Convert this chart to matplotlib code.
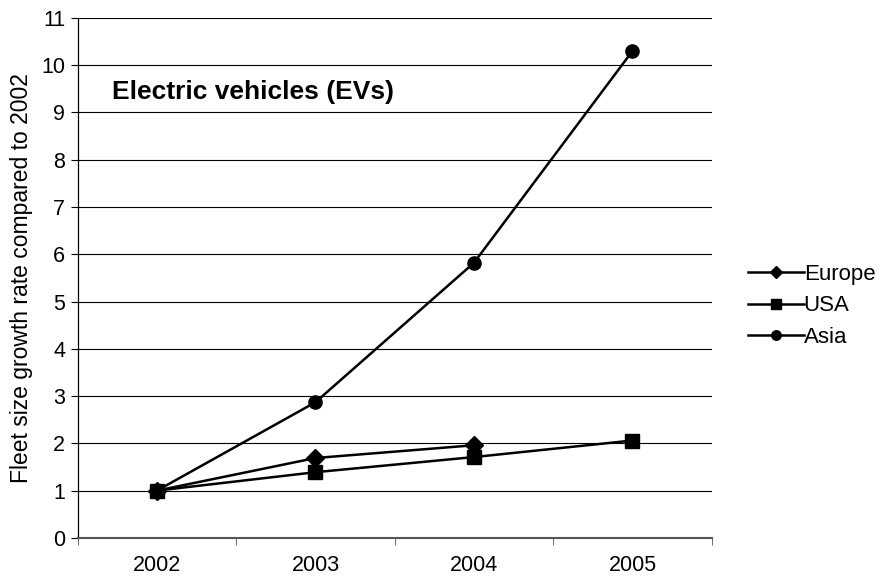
import matplotlib
matplotlib.use("Agg")
import matplotlib.pyplot as plt

plt.rcParams['font.family'] = ['Liberation Sans', 'DejaVu Sans']

years = ["2002", "2003", "2004", "2005"]
europe = [1.0, 1.69, 1.96]
usa = [1.0, 1.39, 1.71, 2.06]
asia = [1.0, 2.87, 5.82, 10.3]

fig = plt.figure(figsize=(8.83, 5.79), dpi=100)
ax = fig.add_axes([0.088, 0.071, 0.718, 0.898])

x = list(range(len(years)))
ax.plot(x[:len(europe)], europe, color="black", lw=1.8, marker="D", ms=9, label="Europe", zorder=3)
ax.plot(x, usa, color="black", lw=1.8, marker="s", ms=10, label="USA", zorder=5)
ax.plot(x, asia, color="black", lw=1.8, marker="o", ms=9.5, label="Asia", zorder=4)

ax.set_xlim(-0.5, len(years) - 0.5)
ax.set_ylim(0, 11)
ax.set_yticks(range(0, 12))
ax.set_xticks(x)
ax.set_xticklabels(years)
ax.set_xticks([i + 0.5 for i in range(-1, len(years))], minor=True)
ax.tick_params(axis="x", which="major", length=0, pad=12, labelsize=15.5)
ax.tick_params(axis="x", which="minor", length=5, color="#555555")
ax.tick_params(axis="y", length=5, labelsize=15.5, pad=4)
ax.yaxis.grid(True, color="black", lw=0.8)
ax.set_axisbelow(True)
for s in ["top", "right"]:
    ax.spines[s].set_visible(False)
ax.spines["left"].set_linewidth(0.9)
ax.spines["bottom"].set_color("#555555")
ax.spines["bottom"].set_linewidth(1.5)

ax.set_ylabel("Fleet size growth rate compared to 2002", fontsize=16.5, labelpad=6)
ax.text(0.054, 0.857, "Electric vehicles (EVs)", transform=ax.transAxes,
        fontsize=19, fontweight="bold", va="center", ha="left",
        bbox=dict(facecolor="white", edgecolor="none", pad=2))

ax.legend(loc="center left", bbox_to_anchor=(1.026, 0.446), frameon=False,
          fontsize=16, handlelength=2.5, handletextpad=0.0, labelspacing=0.48,
          markerscale=0.72)

fig.savefig("out.png", dpi=100)
